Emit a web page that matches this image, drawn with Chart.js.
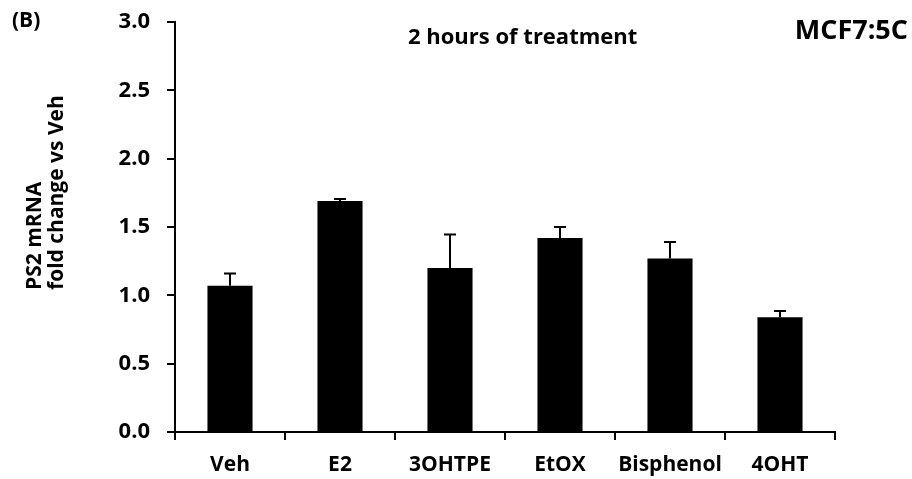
<!DOCTYPE html>
<html>
<head>
<meta charset="utf-8"/>
<script src="https://cdn.jsdelivr.net/npm/chart.js@4"></script>
<style>
  html, body { margin: 0; padding: 0; background: #fff; }
</style>
</head>
<body>
<canvas id="myChart" width="912" height="479"></canvas>
<script>
// data
const categories = ["Veh", "E2", "3OHTPE", "EtOX", "Bisphenol", "4OHT"];
const foldChange = [1.07, 1.69, 1.20, 1.42, 1.27, 0.84];
const errUpper   = [0.09, 0.015, 0.245, 0.08, 0.12, 0.045];
const yTicks     = [0, 0.5, 1.0, 1.5, 2.0, 2.5, 3.0];
const yTitle     = ["PS2 mRNA", "fold change vs Veh"];

const FONT = "'Open Sans', 'Liberation Sans', sans-serif";

// upper error bars, drawn through the chart's own scales
const errorBars = {
  id: "errorBars",
  afterDatasetsDraw(chart) {
    const ctx = chart.ctx;
    const y = chart.scales.y;
    const meta = chart.getDatasetMeta(0);
    ctx.save();
    ctx.strokeStyle = "#000";
    ctx.lineWidth = 2;
    meta.data.forEach((bar, i) => {
      const top = y.getPixelForValue(foldChange[i] + errUpper[i]);
      ctx.beginPath();
      ctx.moveTo(bar.x, bar.y);
      ctx.lineTo(bar.x, top);
      ctx.moveTo(bar.x - 6, top);
      ctx.lineTo(bar.x + 6, top);
      ctx.stroke();
    });
    ctx.restore();
  }
};

// the text labels on the figure
const labelsPlugin = {
  id: "labelsPlugin",
  afterDraw(chart) {
    const ctx = chart.ctx;
    ctx.save();
    ctx.fillStyle = "#000";
    ctx.textBaseline = "middle";

    ctx.font = "bold 21px " + FONT;
    ctx.textAlign = "left";
    ctx.fillText("(B)", 12, 21);
    ctx.font = "bold 22px " + FONT;
    ctx.fillText("2 hours of treatment", 408, 38);

    ctx.font = "bold 27px " + FONT;
    ctx.textAlign = "right";
    ctx.fillText("MCF7:5C", 908, 31);

    // y axis title, two lines starting at the same point
    ctx.font = "bold 21px " + FONT;
    ctx.translate(0, 290);
    ctx.rotate(-Math.PI / 2);
    ctx.textAlign = "left";
    ctx.fillText(yTitle[0], 0, 35);
    ctx.fillText(yTitle[1], 0, 57);
    ctx.restore();
  }
};

const ctx = document.getElementById("myChart").getContext("2d");

new Chart(ctx, {
  type: "bar",
  data: {
    labels: categories,
    datasets: [{
      data: foldChange,
      backgroundColor: "#000",
      borderWidth: 0,
      barPercentage: 0.41,
      categoryPercentage: 1.0
    }]
  },
  options: {
    responsive: false,
    animation: false,
    layout: { padding: { left: 20, right: 77, top: 22, bottom: 0 } },
    plugins: {
      legend: { display: false },
      tooltip: { enabled: false }
    },
    scales: {
      x: {
        offset: true,
        afterFit(scale) { scale.height = 47; },
        grid: { offset: true, drawOnChartArea: false, drawTicks: true, tickLength: 8, color: "#000", lineWidth: 2 },
        border: { color: "#000", width: 2 },
        ticks: { color: "#000", padding: 12, font: { family: FONT, weight: "bold", size: 21 } }
      },
      y: {
        min: 0,
        max: 3,
        // fixed width, and no extra room above the top label
        afterFit(scale) {
          scale.width = 155;
          scale.paddingTop = 0;
          scale.paddingBottom = 0;
        },
        afterBuildTicks(scale) { scale.ticks = yTicks.map(v => ({ value: v })); },
        grid: { drawOnChartArea: false, drawTicks: true, tickLength: 8, color: "#000", lineWidth: 2 },
        border: { color: "#000", width: 2 },
        ticks: {
          color: "#000",
          padding: 17,
          font: { family: FONT, weight: "bold", size: 22 },
          callback: v => Number(v).toFixed(1)
        }
      }
    }
  },
  plugins: [errorBars, labelsPlugin]
});
</script>
</body>
</html>
